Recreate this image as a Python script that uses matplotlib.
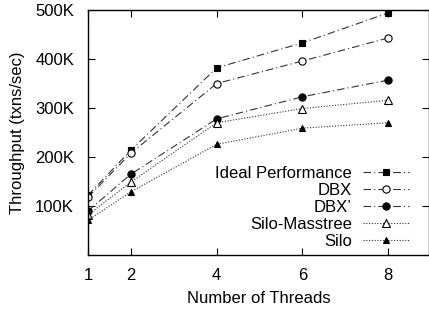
import matplotlib
matplotlib.use("Agg")
import matplotlib.pyplot as plt

plt.rcParams['font.family'] = ['Liberation Sans', 'DejaVu Sans']
plt.rcParams['lines.scale_dashes'] = False

threads = [1, 2, 4, 6, 8]
series_names = ["Ideal Performance", "DBX", "DBX\u2019", "Silo-Masstree", "Silo"]
ideal = [122000, 214000, 382000, 433000, 494000]
dbx = [118000, 208000, 350000, 396000, 443000]
dbx_prime = [90000, 165000, 278000, 323000, 357000]
silo_masstree = [82000, 149000, 270000, 299000, 316000]
silo = [71000, 129000, 226000, 259000, 270000]
yticks = [100000, 200000, 300000, 400000, 500000]
ytick_labels = ["100K", "200K", "300K", "400K", "500K"]

FS = 12
fig = plt.figure(figsize=(4.29, 3.13), dpi=100)
ax = fig.add_axes([0.205, 0.185, 0.795, 0.783])

dashdot = (0, (5.5, 2.2, 0.8, 2.2))
dotted = (0, (0.8, 1.2))
styles = [
    dict(marker='s', mfc='black', ls=dashdot, ms=4.6),
    dict(marker='o', mfc='white', ls=dashdot, ms=5.2),
    dict(marker='o', mfc='black', ls=dashdot, ms=5.2),
    dict(marker='^', mfc='white', ls=dotted, ms=5.2),
    dict(marker='^', mfc='black', ls=dotted, ms=5.0),
]
data = [ideal, dbx, dbx_prime, silo_masstree, silo]
for name, vals, st in zip(series_names, data, styles):
    ax.plot(threads, vals, color='#333333', lw=0.8, marker=st['marker'],
            mfc=st['mfc'], mec='black', mew=0.8, ms=st['ms'], ls=st['ls'], label=name)

ax.set_xlim(1, 8.95)
ax.set_ylim(0, 500000)
ax.set_xticks(threads)
ax.set_yticks(yticks)
ax.set_yticklabels(ytick_labels)
ax.tick_params(direction='in', top=True, right=True, length=5, width=0.8,
               labelsize=FS)
ax.tick_params(axis='x', pad=9)
ax.tick_params(axis='y', pad=10)
for s in ax.spines.values():
    s.set_linewidth(1.0)
ax.set_xlabel("Number of Threads", fontsize=FS, labelpad=6)
ax.set_ylabel("Throughput (txns/sec)", fontsize=FS, labelpad=7)

leg = ax.legend(loc='lower right', bbox_to_anchor=(0.94, 0.025), frameon=False,
                markerfirst=False, fontsize=FS, handlelength=2.75,
                handletextpad=0.66, labelspacing=0.12, borderpad=0.0,
                borderaxespad=0.0)
for t in leg.get_texts():
    t.set_ha('right')
leg._legend_box.align = 'right'

fig.savefig("out.png", dpi=100)
